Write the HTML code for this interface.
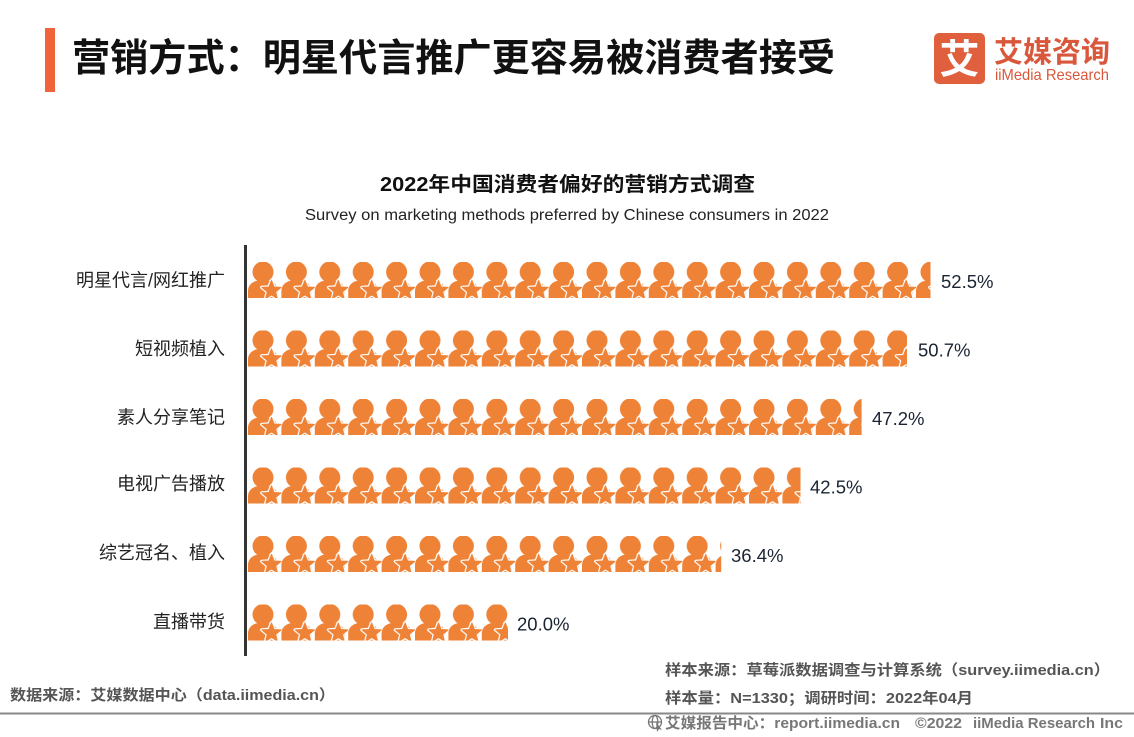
<!DOCTYPE html>
<html><head><meta charset="utf-8">
<style>
html,body{margin:0;padding:0;background:#fff;}
svg{display:block;}
text{font-family:"Liberation Sans","Noto Sans CJK SC",sans-serif;}
</style></head>
<body>
<svg width="1134" height="737" viewBox="0 0 1134 737" xmlns="http://www.w3.org/2000/svg">
<defs>
  <path id="star" d="M0,-9.5 L2.45,-3.35 L9.035,-2.936 L3.95,1.28 L5.584,7.686 L0,4.15 L-5.584,7.686 L-3.95,1.28 L-9.035,-2.936 L-2.45,-3.35 Z"/>
  <pattern id="ppl" patternUnits="userSpaceOnUse" x="0" y="0" width="33.4" height="40">
    <circle cx="15" cy="10" r="10.5" fill="#EE8236"/>
    <path d="M0,36 L0,29 C0,22 6,18 15,18 C24,18 30,22 30,29 L30,36 Z" fill="#EE8236"/>
    <use href="#star" transform="translate(23.5,28.5) scale(1.08)" fill="#fff" stroke="#fff" stroke-width="3" stroke-linejoin="round"/>
    <use href="#star" transform="translate(23.5,28.5) scale(1.08)" fill="#EE8236" stroke="#EE8236" stroke-width="0.8" stroke-linejoin="round"/>
  </pattern>
</defs>
<rect width="1134" height="737" fill="#fff"/>

<!-- header -->
<rect x="45" y="28" width="10" height="64" fill="#F0643A"/>
<text x="72" y="71" font-size="38" font-weight="bold" fill="#111" textLength="763" lengthAdjust="spacingAndGlyphs">营销方式：明星代言推广更容易被消费者接受</text>

<!-- logo -->
<rect x="934" y="33" width="51" height="51" rx="5" fill="#E0603E"/>
<text x="959.5" y="73" font-size="40" font-weight="bold" fill="#fff" text-anchor="middle">艾</text>
<text x="994" y="62" font-size="29" font-weight="bold" fill="#D9583B" textLength="116" lengthAdjust="spacingAndGlyphs">艾媒咨询</text>
<text x="995" y="80" font-size="16" fill="#D9583B" textLength="114" lengthAdjust="spacingAndGlyphs">iiMedia Research</text>

<!-- chart titles -->
<text x="380" y="191" font-size="20" font-weight="bold" fill="#111" textLength="375" lengthAdjust="spacingAndGlyphs">2022年中国消费者偏好的营销方式调查</text>
<text x="305" y="220" font-size="15.5" fill="#222" textLength="524" lengthAdjust="spacingAndGlyphs">Survey on marketing methods preferred by Chinese consumers in 2022</text>

<!-- axis -->
<line x1="245.5" y1="245" x2="245.5" y2="656" stroke="#333" stroke-width="3"/>

<!-- rows -->
<g transform="translate(248,262)"><rect x="0" y="0" width="682.5" height="36" fill="url(#ppl)"/></g>
<g transform="translate(248,330.5)"><rect x="0" y="0" width="659" height="36" fill="url(#ppl)"/></g>
<g transform="translate(248,399)"><rect x="0" y="0" width="613.6" height="36" fill="url(#ppl)"/></g>
<g transform="translate(248,467.5)"><rect x="0" y="0" width="552.5" height="36" fill="url(#ppl)"/></g>
<g transform="translate(248,536)"><rect x="0" y="0" width="473.2" height="36" fill="url(#ppl)"/></g>
<g transform="translate(248,604.5)"><rect x="0" y="0" width="260" height="36" fill="url(#ppl)"/></g>

<!-- category labels -->
<g font-size="18" fill="#222" text-anchor="end">
<text x="225" y="286.5">明星代言/网红推广</text>
<text x="225" y="355">短视频植入</text>
<text x="225" y="423.5">素人分享笔记</text>
<text x="225" y="490">电视广告播放</text>
<text x="225" y="559">综艺冠名、植入</text>
<text x="225" y="628">直播带货</text>
</g>

<!-- values -->
<g font-size="18.5" fill="#1a2433">
<text x="941" y="288">52.5%</text>
<text x="918" y="356.5">50.7%</text>
<text x="872" y="425">47.2%</text>
<text x="810" y="493.5">42.5%</text>
<text x="731" y="562">36.4%</text>
<text x="517" y="630.5">20.0%</text>
</g>

<!-- footer -->
<text x="10" y="700" font-size="15" font-weight="bold" fill="#555" textLength="325" lengthAdjust="spacingAndGlyphs">数据来源：艾媒数据中心（data.iimedia.cn）</text>
<text x="665" y="675" font-size="15" font-weight="bold" fill="#555" textLength="445" lengthAdjust="spacingAndGlyphs">样本来源：草莓派数据调查与计算系统（survey.iimedia.cn）</text>
<text x="665" y="703" font-size="15" font-weight="bold" fill="#555" textLength="308" lengthAdjust="spacingAndGlyphs">样本量：N=1330；调研时间：2022年04月</text>
<line x1="0" y1="713.5" x2="1134" y2="713.5" stroke="#888" stroke-width="2"/>
<g stroke="#777" stroke-width="1.3" fill="none">
<circle cx="655" cy="722" r="6.5"/>
<ellipse cx="655" cy="722" rx="2.8" ry="6.5"/>
<line x1="648.5" y1="722" x2="661.5" y2="722"/>
</g>
<path d="M656,722 L662,730 L659,729 L657,732 Z" fill="#777"/>
<g font-size="15" font-weight="bold" fill="#777">
<text x="665" y="728" textLength="235" lengthAdjust="spacingAndGlyphs">艾媒报告中心：report.iimedia.cn</text>
<text x="915" y="728" textLength="47" lengthAdjust="spacingAndGlyphs">©2022</text>
<text x="973" y="728" textLength="122" lengthAdjust="spacingAndGlyphs">iiMedia Research</text>
<text x="1100" y="728" textLength="23" lengthAdjust="spacingAndGlyphs">Inc</text>
</g>
</svg>
</body></html>
